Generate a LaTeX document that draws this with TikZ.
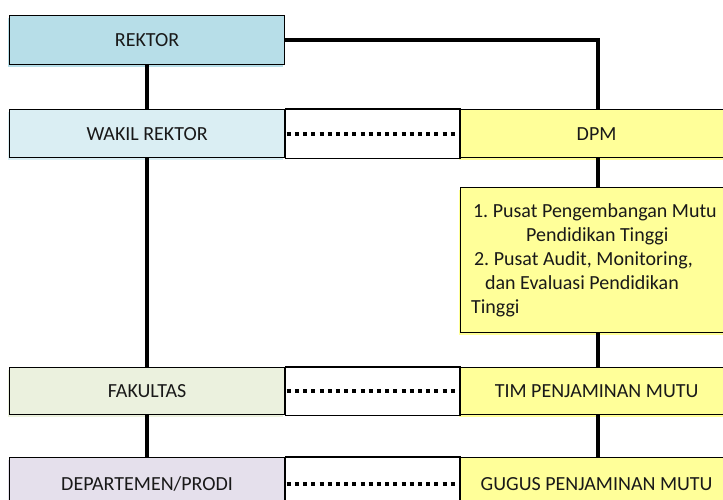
\documentclass[tikz,border=0pt]{standalone}
\usepackage{fontspec}
\setmainfont{Carlito}
\usepackage{tikz}
\usetikzlibrary{calc}
\frenchspacing
\definecolor{rektorblue}{HTML}{B7DEE8}
\definecolor{wakilblue}{HTML}{DAEEF3}
\definecolor{fakgreen}{HTML}{EBF1DE}
\definecolor{deptlav}{HTML}{E5E0EC}
\definecolor{dpmyellow}{HTML}{FFFF99}
\tikzset{
every picture/.append style={
    line join=miter,
    line cap=butt,
    x=1pt, y=-1pt
  },
cell/.style={draw=black, line width=1.2pt, anchor=north west, inner sep=0pt,
    font=\fontsize{20}{24}\selectfont, text=black!90,
    preaction={fill=#1, transform canvas={xshift=-2pt,yshift=-2pt}}, fill=#1},
leftcell/.style={cell=#1, minimum width=275pt},
rightcell/.style={cell=#1, minimum width=272pt},
gapcell/.style={draw=black, line width=1.2pt},
link/.style={line width=4pt},
dotline/.style={line width=4pt, dash pattern=on 4pt off 4.2pt}
}
\begin{document}
\begin{tikzpicture}
    \useasboundingbox (0,0) rectangle (723,500);
    \clip (0,0) rectangle (723,500);
    \coordinate (spine) at (598,0);
    \node [leftcell=rektorblue, minimum height=49pt] (rektor) at (9,15) {REKTOR};
    \node [leftcell=wakilblue, minimum height=48pt] (wakil) at (9,109) {WAKIL REKTOR};
    \node [rightcell=dpmyellow, minimum height=48pt] (dpm) at (460,109) {DPM};
    \node [rightcell=dpmyellow, minimum height=145pt, text width=251pt, inner xsep=10.5pt, align=flush left] (pusat) at (460,187)
        {\frenchspacing\hspace*{2pt}1. Pusat Pengembangan Mutu\\
         \hspace*{55pt}Pendidikan Tinggi\\
         \hspace*{3pt}2. Pusat Audit, Monitoring,\\
         \hspace*{14pt}dan Evaluasi Pendidikan\\
         Tinggi};
    \node [leftcell=fakgreen, minimum height=47pt] (fakultas) at (9,367) {FAKULTAS};
    \node [rightcell=dpmyellow, minimum height=47pt] (tim) at (460,367) {TIM PENJAMINAN MUTU};
    \node [leftcell=deptlav, minimum height=52pt] (dept) at (9,457) {DEPARTEMEN/PRODI};
    \node [rightcell=dpmyellow, minimum height=52pt] (gugus) at (460,457) {GUGUS PENJAMINAN MUTU};
    \foreach \l/\r in {wakil/dpm, fakultas/tim, dept/gugus} {
        \draw [gapcell] (\l.north east) rectangle (\r.south west);
        \draw [dotline, shorten <=1.5pt, shorten >=3pt] (\l.east) -- (\r.west);
    }
    \draw [link] (rektor.south) -- (wakil.north);
    \draw [link] (wakil.south) -- (fakultas.north);
    \draw [link] (fakultas.south) -- (dept.north);
    \draw [link] (rektor.east) -| (dpm.north -| spine);
    \draw [link] (dpm.south -| spine) -- (pusat.north -| spine);
    \draw [link] (pusat.south -| spine) -- (tim.north -| spine);
    \draw [link] (tim.south -| spine) -- (gugus.north -| spine);
\end{tikzpicture}
\end{document}
